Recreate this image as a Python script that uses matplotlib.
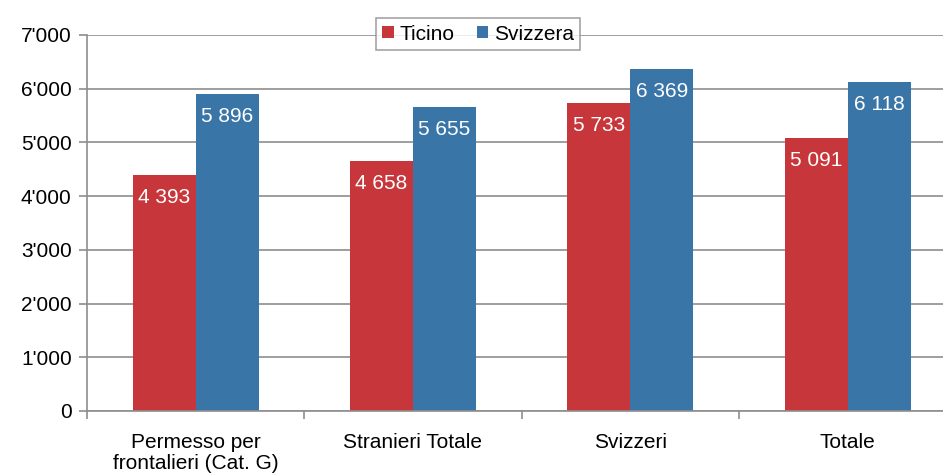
import matplotlib

matplotlib.use("Agg")
import matplotlib.pyplot as plt
import numpy as np

categories = ["Permesso per\nfrontalieri (Cat. G)", "Stranieri Totale", "Svizzeri", "Totale"]
ticino = [4393, 4658, 5733, 5091]
svizzera = [5896, 5655, 6369, 6118]
y_ticks = [0, 1000, 2000, 3000, 4000, 5000, 6000, 7000]

RED = "#C7363A"
BLUE = "#3A75A7"
GRID = "#8E8E8E"
FS = 15

plt.rcParams["font.family"] = ["Liberation Sans", "DejaVu Sans"]

fig = plt.figure(figsize=(9.43, 4.74), dpi=100)
ax = fig.add_axes([87 / 943, 1 - 411 / 474, (943 - 87) / 943, (411 - 35) / 474])

x = np.arange(len(categories))
w = 0.29
bars_t = ax.bar(x - w / 2, ticino, w, color=RED, label="Ticino", zorder=3)
bars_s = ax.bar(x + w / 2, svizzera, w, color=BLUE, label="Svizzera", zorder=3)


def fmt(v):
    return f"{v:,}".replace(",", " ")


for bars, vals in ((bars_t, ticino), (bars_s, svizzera)):
    for b, v in zip(bars, vals):
        ax.text(b.get_x() + b.get_width() / 2, v - 420, fmt(v), ha="center", va="center",
                color="white", fontsize=FS, zorder=4)

ax.set_yticks(y_ticks)
ax.set_yticklabels([f"{v // 1000}'000" if v else "0" for v in y_ticks], fontsize=FS)
ax.yaxis.grid(True, color=GRID, linewidth=1.2, zorder=0)

ax.set_xticks(x)
ax.set_xticklabels(categories, fontsize=FS, linespacing=1.15)
ax.tick_params(axis="x", length=0, pad=16)
# category separators; the last one falls just past the right edge
ax.set_xticks(np.arange(len(categories) + 1) - 0.5, minor=True)
ax.tick_params(axis="x", which="minor", length=6, color=GRID, width=1.2)
ax.tick_params(axis="y", length=6, color=GRID, width=1.2, pad=5)

# limits set after the ticks so they are not widened again
ax.set_ylim(0, 7000)
ax.set_xlim(-0.5, -0.5 + 856 / 217.3)

for side in ("top", "right"):
    ax.spines[side].set_visible(False)
for side in ("left", "bottom"):
    ax.spines[side].set_color(GRID)
    ax.spines[side].set_linewidth(1.2)
    ax.spines[side].set_zorder(5)

leg = fig.legend(loc="center", bbox_to_anchor=(478 / 943, 1 - 34 / 474), ncol=2,
                 fontsize=FS, frameon=True, fancybox=False, handlelength=0.55,
                 handleheight=0.55, handletextpad=0.25, columnspacing=1.1,
                 borderpad=0.3)
leg.get_frame().set_edgecolor(GRID)
leg.get_frame().set_linewidth(1.2)

fig.savefig("out.png", dpi=100)
